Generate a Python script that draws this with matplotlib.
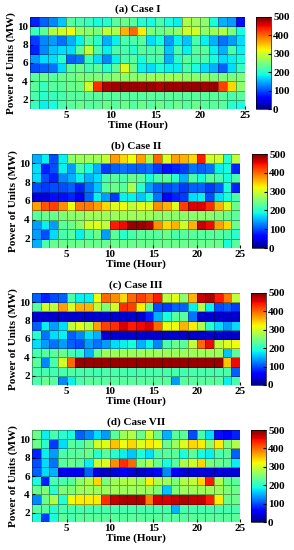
import numpy as np
import matplotlib
matplotlib.use("Agg")
import matplotlib.pyplot as plt

# Fuente tipo Times en negrita
plt.rcParams['font.family'] = ['Liberation Serif', 'DejaVu Serif']
plt.rcParams['font.weight'] = 'bold'

hours = np.arange(1, 26)   # bordes de las celdas en x
units = np.arange(1, 12)   # bordes de las celdas en y

# Potencia de las unidades, filas de la unidad 10 (arriba) a la unidad 1 (abajo)
case_I = [
    [80, 110, 130, 160, 230, 220, 210, 190, 200, 230, 240, 230, 200, 190, 220, 195, 180, 280, 270, 260, 190, 150, 140, 70],
    [210, 230, 280, 300, 320, 270, 260, 250, 290, 280, 360, 400, 330, 250, 240, 250, 260, 300, 300, 260, 270, 280, 250, 190],
    [90, 130, 140, 120, 150, 180, 230, 200, 150, 180, 220, 220, 230, 170, 190, 140, 180, 160, 220, 180, 150, 120, 140, 170],
    [80, 130, 160, 170, 170, 230, 290, 220, 180, 220, 220, 200, 230, 220, 230, 160, 220, 180, 230, 230, 180, 150, 220, 180],
    [140, 170, 170, 200, 110, 120, 210, 170, 130, 180, 220, 230, 190, 220, 220, 150, 200, 230, 220, 220, 190, 170, 180, 190],
    [100, 110, 120, 170, 230, 240, 220, 230, 200, 230, 310, 240, 180, 170, 190, 180, 180, 220, 190, 170, 150, 110, 170, 210],
    [230, 240, 230, 240, 240, 250, 250, 250, 250, 260, 260, 260, 260, 270, 270, 270, 270, 260, 260, 260, 250, 250, 250, 250],
    [230, 210, 230, 230, 240, 240, 300, 430, 480, 485, 490, 490, 485, 490, 480, 490, 485, 490, 490, 485, 490, 420, 340, 260],
    [220, 200, 210, 220, 230, 230, 230, 230, 230, 230, 230, 230, 230, 230, 230, 230, 230, 230, 230, 230, 230, 230, 220, 230],
    [210, 180, 190, 220, 230, 240, 230, 230, 240, 230, 240, 230, 240, 230, 240, 230, 240, 230, 240, 230, 230, 230, 200, 190],
]

case_II = [
    [150, 180, 100, 180, 260, 270, 270, 270, 290, 370, 340, 320, 370, 280, 400, 310, 370, 360, 340, 440, 300, 300, 200, 290],
    [170, 80, 100, 180, 140, 220, 190, 150, 90, 110, 120, 110, 110, 120, 90, 70, 80, 90, 120, 110, 120, 180, 190, 80],
    [170, 100, 80, 130, 150, 180, 150, 170, 220, 230, 220, 240, 230, 190, 220, 230, 200, 150, 220, 190, 230, 220, 190, 220],
    [100, 90, 100, 100, 110, 80, 120, 160, 230, 240, 230, 280, 200, 140, 110, 100, 110, 90, 110, 110, 90, 110, 190, 80],
    [40, 40, 70, 70, 80, 50, 110, 180, 140, 90, 180, 180, 160, 190, 120, 60, 80, 90, 170, 180, 100, 170, 190, 220],
    [370, 410, 420, 380, 320, 390, 390, 370, 340, 310, 320, 290, 310, 310, 380, 360, 310, 420, 460, 460, 430, 360, 310, 240],
    [230, 240, 240, 250, 260, 260, 270, 270, 270, 270, 270, 270, 270, 270, 260, 260, 260, 260, 260, 260, 260, 250, 240, 230],
    [140, 180, 140, 230, 240, 260, 300, 310, 290, 440, 450, 490, 490, 480, 380, 340, 360, 300, 360, 470, 450, 370, 340, 240],
    [140, 100, 170, 220, 230, 180, 220, 240, 140, 230, 200, 220, 230, 230, 230, 240, 220, 230, 230, 230, 230, 230, 220, 200],
    [150, 220, 240, 240, 240, 240, 240, 240, 240, 240, 240, 240, 240, 240, 240, 240, 240, 240, 240, 240, 240, 240, 190, 230],
]

case_III = [
    [110, 80, 100, 110, 220, 180, 180, 320, 400, 380, 340, 400, 420, 400, 440, 290, 310, 260, 360, 470, 480, 440, 390, 290],
    [230, 300, 290, 370, 310, 360, 360, 290, 250, 300, 430, 420, 330, 240, 100, 90, 110, 110, 180, 280, 180, 100, 110, 90],
    [35, 35, 35, 35, 35, 35, 35, 35, 35, 35, 35, 35, 35, 80, 150, 190, 230, 230, 120, 35, 35, 35, 35, 35],
    [110, 180, 140, 170, 290, 310, 290, 370, 420, 430, 460, 440, 450, 460, 400, 320, 320, 360, 330, 280, 200, 170, 140, 170],
    [200, 120, 170, 180, 110, 130, 170, 150, 35, 35, 35, 35, 35, 35, 35, 35, 35, 35, 35, 35, 35, 35, 35, 35],
    [170, 140, 120, 140, 110, 100, 140, 120, 140, 170, 180, 190, 150, 180, 130, 220, 240, 230, 290, 400, 450, 290, 310, 320],
    [220, 230, 230, 240, 220, 200, 150, 240, 270, 270, 270, 270, 270, 270, 270, 270, 270, 270, 270, 270, 270, 270, 160, 230],
    [230, 130, 220, 300, 400, 490, 490, 490, 490, 490, 490, 490, 490, 490, 490, 490, 490, 490, 490, 490, 490, 490, 350, 450],
    [220, 220, 215, 220, 225, 220, 220, 215, 220, 220, 220, 215, 220, 220, 220, 220, 220, 215, 220, 220, 220, 220, 220, 110],
    [220, 240, 230, 130, 180, 220, 230, 230, 230, 230, 230, 230, 230, 230, 230, 230, 140, 230, 230, 230, 230, 230, 180, 220],
]

case_VII = [
    [240, 180, 220, 200, 190, 110, 130, 170, 140, 230, 270, 280, 240, 300, 240, 150, 230, 230, 100, 220, 170, 70, 60, 80],
    [240, 200, 90, 170, 230, 220, 240, 300, 310, 350, 320, 340, 310, 330, 320, 240, 270, 310, 340, 330, 260, 330, 250, 280],
    [80, 180, 140, 220, 230, 230, 240, 200, 230, 200, 180, 160, 190, 170, 220, 230, 230, 190, 230, 190, 180, 220, 230, 110],
    [100, 170, 120, 230, 240, 230, 180, 300, 310, 380, 430, 400, 260, 280, 240, 190, 230, 280, 300, 340, 250, 240, 230, 180],
    [110, 170, 150, 50, 50, 50, 110, 40, 30, 40, 60, 40, 30, 40, 60, 130, 60, 40, 40, 40, 40, 40, 40, 40],
    [190, 80, 220, 220, 230, 260, 280, 340, 250, 270, 280, 280, 270, 330, 280, 270, 250, 280, 290, 340, 440, 280, 240, 230],
    [240, 250, 200, 250, 250, 270, 270, 270, 270, 270, 270, 270, 270, 270, 250, 160, 250, 270, 270, 270, 270, 270, 250, 240],
    [130, 240, 280, 200, 320, 330, 330, 330, 430, 470, 480, 480, 480, 390, 460, 460, 470, 480, 470, 470, 440, 330, 240, 240],
    [230, 230, 200, 220, 220, 220, 220, 220, 220, 220, 220, 220, 220, 220, 220, 220, 150, 220, 220, 220, 220, 220, 220, 220],
    [190, 90, 190, 230, 220, 230, 230, 230, 230, 230, 230, 230, 230, 230, 230, 230, 230, 230, 230, 230, 230, 230, 230, 230],
]

titles = ['(a) Case I', '(b) Case II', '(c) Case III', '(d) Case VII']
cases = [case_I, case_II, case_III, case_VII]

# posiciones en pixeles: (izquierda, arriba, ancho, alto) del mapa y x de la barra de color
W, H = 294, 550
boxes = [(30, 17, 215, 92, 256), (32, 154, 208, 94, 252),
         (32, 293, 208, 92, 251), (32, 430, 208, 92, 251)]

fig = plt.figure(figsize=(W / 100, H / 100), dpi=100)

for title, data, (x0, y0, w, h, cx) in zip(titles, cases, boxes):
    ax = fig.add_axes([x0 / W, 1 - (y0 + h) / H, w / W, h / H])
    cax = fig.add_axes([cx / W, 1 - (y0 + h) / H, 15 / W, h / H])

    z = np.flipud(np.array(data, dtype=float))  # la unidad 1 queda abajo
    mesh = ax.pcolormesh(hours, units, z, cmap='jet', vmin=0, vmax=500,
                         edgecolors=(0, 0, 0, 0.35), linewidth=0.4)

    ax.set_xlim(1, 25)
    ax.set_ylim(1, 11)
    ax.set_xticks([5, 10, 15, 20, 25])
    ax.set_yticks([2, 4, 6, 8, 10])
    ax.tick_params(direction='in', length=2, labelsize=8, pad=1.5)
    for s in ax.spines.values():
        s.set_visible(False)
    ax.set_title(title, fontsize=8, fontweight='bold', pad=3.5)
    ax.set_xlabel('Time (Hour)', fontsize=8, fontweight='bold', labelpad=0)
    ax.set_ylabel('Power of Units (MW)', fontsize=8, fontweight='bold', labelpad=1)

    cb = fig.colorbar(mesh, cax=cax, ticks=[0, 100, 200, 300, 400, 500])
    cb.ax.tick_params(direction='in', length=2, labelsize=8, pad=1.5)
    cb.outline.set_linewidth(0.5)

fig.savefig('out.png', dpi=100)
